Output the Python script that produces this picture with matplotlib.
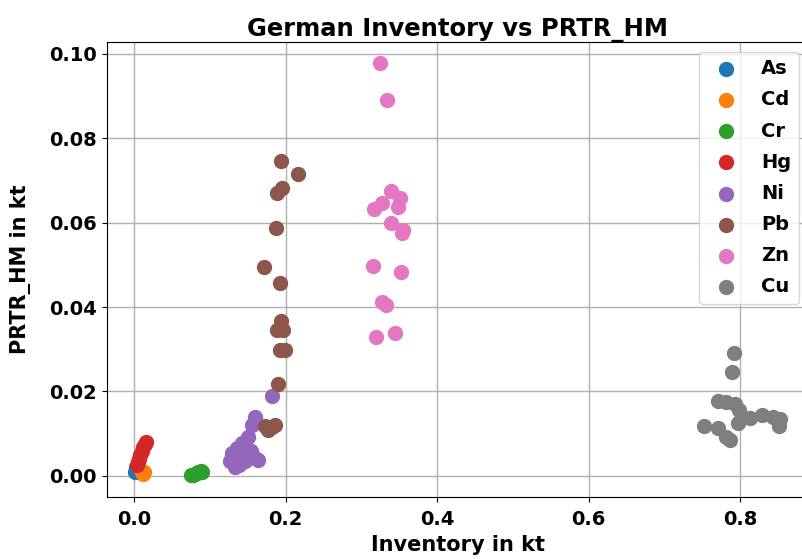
import numpy as np
import matplotlib
matplotlib.use('Agg')
import matplotlib.pyplot as plt

# inventory (x) vs PRTR (y), kt
as_x = [0.0013, 0.002, 0.003]
as_y = [0.0010, 0.0015, 0.0020]

cd_x = [0.010, 0.012, 0.013]
cd_y = [0.0010, 0.0005, 0.0008]

cr_x = [0.075, 0.078, 0.080, 0.083, 0.085, 0.088, 0.090]
cr_y = [0.0003, 0.0002, 0.0005, 0.0006, 0.0008, 0.0012, 0.0010]

hg_x = [0.004, 0.005, 0.006, 0.008, 0.010, 0.012, 0.014, 0.016]
hg_y = [0.0025, 0.0032, 0.0040, 0.0050, 0.0060, 0.0068, 0.0075, 0.0081]

ni_x = [0.182, 0.160, 0.156, 0.151, 0.142, 0.136, 0.129, 0.127, 0.133,
        0.151, 0.160, 0.164, 0.147, 0.138, 0.145, 0.155]
ni_y = [0.0188, 0.0140, 0.0121, 0.0093, 0.0077, 0.0066, 0.0054, 0.0034, 0.0022,
        0.0054, 0.0042, 0.0038, 0.0034, 0.0026, 0.0048, 0.0060]

pb_x = [0.1937, 0.217, 0.195, 0.189, 0.188, 0.172, 0.193, 0.1937, 0.189, 0.196,
        0.193, 0.1997, 0.1905, 0.173, 0.186, 0.177, 0.182]
pb_y = [0.0747, 0.0715, 0.0682, 0.0670, 0.0588, 0.0494, 0.0457, 0.0366, 0.0346, 0.0346,
        0.0297, 0.0297, 0.0218, 0.0117, 0.0121, 0.0109, 0.0115]

zn_x = [0.324, 0.334, 0.339, 0.351, 0.327, 0.317, 0.349, 0.339, 0.355, 0.354,
        0.315, 0.353, 0.327, 0.333, 0.320, 0.345]
zn_y = [0.0979, 0.0891, 0.0676, 0.0658, 0.0646, 0.0632, 0.0638, 0.0600, 0.0583, 0.0575,
        0.0496, 0.0484, 0.0413, 0.0405, 0.0330, 0.0338]

cu_x = [0.792, 0.789, 0.771, 0.782, 0.793, 0.798, 0.797, 0.813, 0.829, 0.844,
        0.853, 0.852, 0.752, 0.771, 0.782, 0.787]
cu_y = [0.0292, 0.0246, 0.0178, 0.0176, 0.0171, 0.0156, 0.0126, 0.0137, 0.0145, 0.0139,
        0.0134, 0.0117, 0.0117, 0.0113, 0.0093, 0.0085]

names = ['As', 'Cd', 'Cr', 'Hg', 'Ni', 'Pb', 'Zn', 'Cu']
xs = [as_x, cd_x, cr_x, hg_x, ni_x, pb_x, zn_x, cu_x]
ys = [as_y, cd_y, cr_y, hg_y, ni_y, pb_y, zn_y, cu_y]

fig, ax = plt.subplots(figsize=(8.03, 5.59), dpi=100)
# axes runs a little past the right edge in the reference
fig.subplots_adjust(left=0.133, right=1.0075, top=0.925, bottom=0.111)

for n, x, y in zip(names, xs, ys):
    ax.scatter(x, y, s=100, label=n)

ax.set_xlim(-0.036, 0.891)
ax.set_ylim(-0.005, 0.1028)
ax.grid(True, color='#b0b0b0', linewidth=1)
ax.set_axisbelow(True)

ax.set_title('German Inventory vs PRTR_HM', fontsize=17.5, fontweight='bold', pad=3)
ax.set_xlabel('Inventory in kt', fontsize=15, fontweight='bold', labelpad=4)
ax.set_ylabel('PRTR_HM in kt', fontsize=15, fontweight='bold', labelpad=13)
ax.tick_params(axis='x', pad=6)
for lab in ax.get_xticklabels() + ax.get_yticklabels():
    lab.set_fontweight('bold')
    lab.set_fontsize(14)

ax.legend(loc='upper right', prop={'weight': 'bold', 'size': 14}, labelspacing=0.62)

plt.savefig('out.png')
